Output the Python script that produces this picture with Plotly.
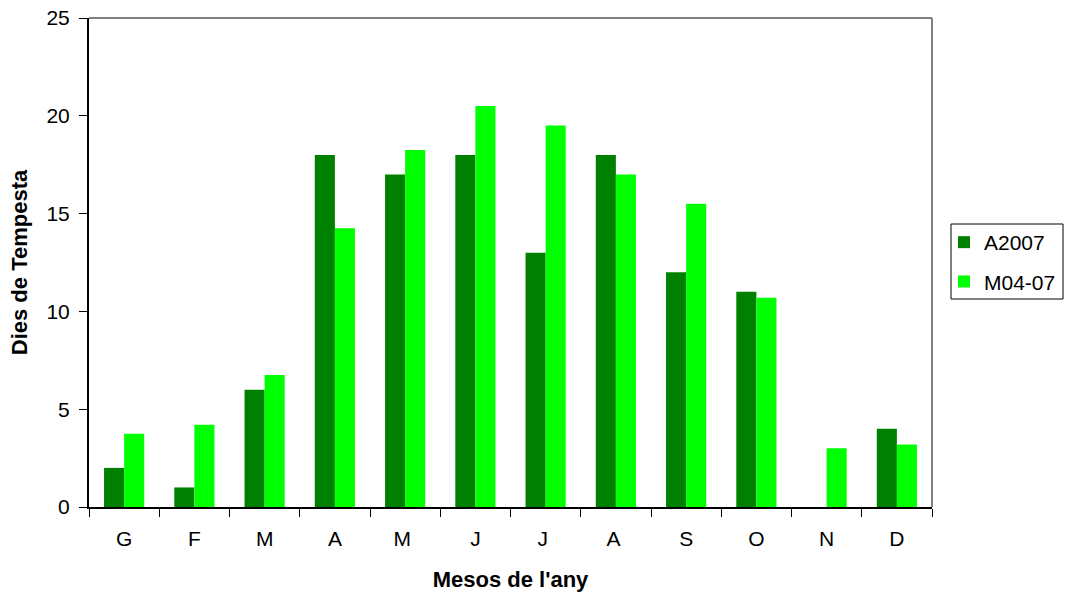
import plotly.graph_objects as go

months = ["G", "F", "M", "A", "M ", "J", "J ", "A ", "S", "O", "N", "D"]
a2007 = [2, 1, 6, 18, 17, 18, 13, 18, 12, 11, 0, 4]
m0407 = [3.75, 4.2, 6.75, 14.25, 18.25, 20.5, 19.5, 17, 15.5, 10.7, 3, 3.2]

FONT = "Liberation Sans, Arial, sans-serif"
L, R, T, B = 89, 136, 18, 92
PW, PH = 1068 - L - R, 599 - T - B

def px_x(x):
    return (x - L) / PW

def px_y(y):
    return (599 - B - y) / PH

fig = go.Figure()
fig.add_trace(go.Bar(x=months, y=a2007, name="A2007", legendgroup="a",
                     marker=dict(color="#008000", line=dict(width=0))))
fig.add_trace(go.Bar(x=months, y=m0407, name="M04-07", legendgroup="b",
                     marker=dict(color="#00FF00", line=dict(width=0))))

fig.update_layout(
    width=1068, height=599,
    margin=dict(l=L, r=R, t=T, b=B, autoexpand=False),
    paper_bgcolor="white", plot_bgcolor="white",
    barmode="group", bargap=0.4286, bargroupgap=0,
    font=dict(family=FONT, size=21, color="black"),
    showlegend=True,
    legend=dict(
        x=px_x(944), y=px_y(222), xanchor="left", yanchor="top",
        bgcolor="rgba(0,0,0,0)", borderwidth=0,
        font=dict(size=21), tracegroupgap=9,
        itemwidth=30,
    ),
    xaxis=dict(
        title=dict(text="<b>Mesos de l'any</b>", font=dict(size=22), standoff=22),
        showline=True, linecolor="black", linewidth=2,
        ticks="outside", ticklen=8, tickcolor="black", tickwidth=1,
        tickson="boundaries", showgrid=False, tickfont=dict(size=21),
        ticklabelstandoff=12,
    ),
    yaxis=dict(
        title=dict(text="<b>Dies de Tempesta</b>", font=dict(size=22), standoff=13),
        range=[0, 25], dtick=5,
        showline=True, linecolor="black", linewidth=2,
        ticks="outside", ticklen=8, tickcolor="black", tickwidth=1,
        showgrid=False, zeroline=False, tickfont=dict(size=21),
        ticklabelstandoff=5,
    ),
    shapes=[
        dict(type="line", xref="paper", yref="paper", x0=0, x1=1, y0=1, y1=1,
             line=dict(color="#808080", width=2)),
        dict(type="line", xref="paper", yref="paper", x0=1, x1=1, y0=0, y1=1,
             line=dict(color="#808080", width=2)),
        dict(type="rect", xref="paper", yref="paper",
             x0=px_x(951), x1=px_x(1063), y0=px_y(299), y1=px_y(224),
             line=dict(color="black", width=1), fillcolor="rgba(0,0,0,0)"),
    ],
)

fig.write_html("out.html", config={"displayModeBar": False},
               post_script="document.body.style.margin='0px';")
